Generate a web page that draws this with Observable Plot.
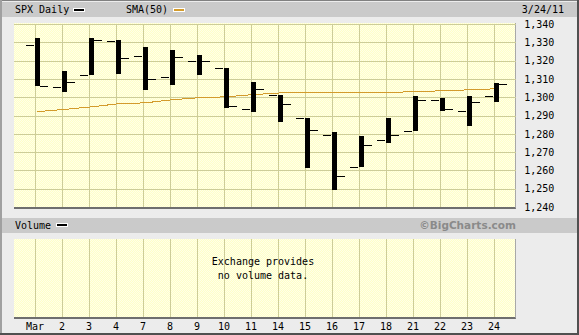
<!DOCTYPE html>
<html><head><meta charset="utf-8">
<script src="https://cdn.jsdelivr.net/npm/d3@7"></script>
<script src="https://cdn.jsdelivr.net/npm/@observablehq/plot@0.6"></script>
<style>
body{margin:0;background:#fff}
#wrap{position:relative;width:579px;height:335px;background:#ececec;overflow:hidden;font-family:"DejaVu Sans Mono",monospace;font-size:10px;color:#000}
.a{position:absolute}
.hdr{left:2px;width:575px;height:15px;background:#cacaca;z-index:3}
.txt{line-height:15px;white-space:nowrap}
.panel{left:14px;width:501px;background-color:#ffffd6;background-image:conic-gradient(#ffffe8 25%,#ffffc8 0 50%,#ffffe8 0 75%,#ffffc8 0);background-size:2px 2px;border-right:1px solid #a8a8a8;border-bottom:2px solid #6e6e6e;z-index:0}
.sw{height:2px;width:10px;border:1px solid #fff}
svg{position:absolute;left:0;z-index:1;overflow:visible}
</style></head><body>
<div id="wrap">
  <div class="a panel" style="top:23px;height:184px"></div>
  <div class="a panel" style="top:239px;height:78px"></div>
  <div class="a hdr" style="top:2px">
    <span class="a txt" style="left:13px;top:0">SPX Daily</span>
    <span class="a sw" style="left:71px;top:6px;background:#000"></span>
    <span class="a txt" style="left:124px;top:0">SMA(50)</span>
    <span class="a sw" style="left:171px;top:6px;background:#d39b2c"></span>
    <span class="a txt" style="right:13px;top:0">3/24/11</span>
  </div>
  <div class="a hdr" style="top:218px">
    <span class="a txt" style="left:13px;top:0">Volume</span>
    <span class="a sw" style="left:54px;top:5px;background:#000"></span>
    <span class="a txt" style="right:61px;top:0;font-family:'DejaVu Sans',sans-serif;font-weight:bold;font-size:10.5px;color:#8a8a8a">©BigCharts.com</span>
  </div>
  <div class="a" style="left:163px;top:255px;width:200px;text-align:center;line-height:13.7px;z-index:2">Exchange provides<br>no volume data.</div>
  <div class="a" style="left:0;top:0;width:579px;height:1px;background:#808080;z-index:4"></div>
  <div class="a" style="left:0;top:0;width:2px;height:335px;background:#a0a0a0;z-index:4"></div>
  <div class="a" style="left:577px;top:0;width:2px;height:335px;background:#505050;z-index:4"></div>
  <div class="a" style="left:0;top:333px;width:579px;height:2px;background:#505050;z-index:4"></div>
</div>
<script>
const days = ["Mar","2","3","4","7","8","9","10","11","14","15","16","17","18","21","22","23","24"];
const openP  = [1328.6,1305.5,1312.4,1330.7,1322.7,1311.0,1319.9,1315.7,1293.4,1301.2,1288.5,1279.5,1261.6,1276.7,1281.7,1298.3,1292.2,1300.6];
const highP  = [1332.1,1314.2,1332.3,1331.1,1327.7,1325.7,1323.2,1315.7,1308.4,1301.2,1288.5,1280.9,1278.9,1288.9,1300.6,1299.4,1300.5,1308.0];
const lowP   = [1306.1,1302.6,1312.4,1312.6,1304.0,1306.9,1312.3,1294.2,1292.0,1286.4,1261.1,1249.1,1261.6,1275.1,1281.7,1292.7,1284.1,1297.6];
const closeP = [1306.3,1308.4,1331.0,1321.2,1310.1,1321.8,1320.0,1295.1,1304.3,1296.4,1281.9,1256.9,1273.7,1279.2,1298.4,1293.8,1297.5,1307.3];
const sma50  = [1292.4,1293.6,1295.0,1296.7,1297.2,1298.9,1300.0,1300.5,1301.7,1302.6,1302.7,1302.7,1302.8,1302.9,1303.3,1303.8,1304.3,1304.9];
const yTicks = [1240,1250,1260,1270,1280,1290,1300,1310,1320,1330,1340];
const gridY  = [1250,1260,1270,1280,1290,1300,1310,1320,1330,1340];

const data = days.map((d,i)=>({day:d, open:openP[i], high:highP[i], low:lowP[i], close:closeP[i], sma:sma50[i]}));
const grid = "#cdcd98";
const font = {fontFamily:"DejaVu Sans Mono", fontSize:"10px", background:"transparent", color:"#000"};
const wrap = document.getElementById("wrap");

const topChart = Plot.plot({
  width:579, height:211, marginTop:24, marginBottom:4, marginLeft:12.2, marginRight:63.3,
  x:{type:"band", domain:days, padding:0, axis:null},
  y:{domain:[1240,1340], axis:null},
  style:font,
  marks:[
    Plot.ruleY(gridY, {stroke:grid, insetLeft:1.8}),
    Plot.ruleX(days, {stroke:grid}),
    Plot.line(data, {x:"day", y:"sma", stroke:"#d39b2c", strokeWidth:1, dx:2.5}),
    Plot.ruleX(data, {x:"day", y1:"low", y2:"high", stroke:"#000", strokeWidth:5, dx:2.2}),
    Plot.tickY(data, {x:"day", y:"open", stroke:"#000", insetLeft:4.7, insetRight:14.3}),
    Plot.tickY(data, {x:"day", y:"close", stroke:"#000", insetLeft:18.7, insetRight:0.3}),
    Plot.axisY(yTicks, {anchor:"right", tickSize:0, tickPadding:8, tickFormat:d3.format(","), fontSize:10})
  ]
});
topChart.setAttribute("shape-rendering","crispEdges");
topChart.style.top = "0px";
wrap.appendChild(topChart);

const volChart = Plot.plot({
  width:579, height:96, marginTop:0, marginBottom:18, marginLeft:12.2, marginRight:63.3,
  x:{type:"band", domain:days, padding:0, axis:null},
  style:font,
  marks:[
    Plot.ruleX(days, {stroke:grid}),
    Plot.axisX({anchor:"bottom", tickSize:0, tickPadding:5, fontSize:10})
  ]
});
volChart.setAttribute("shape-rendering","crispEdges");
volChart.style.top = "239px";
wrap.appendChild(volChart);
</script>
</body></html>
